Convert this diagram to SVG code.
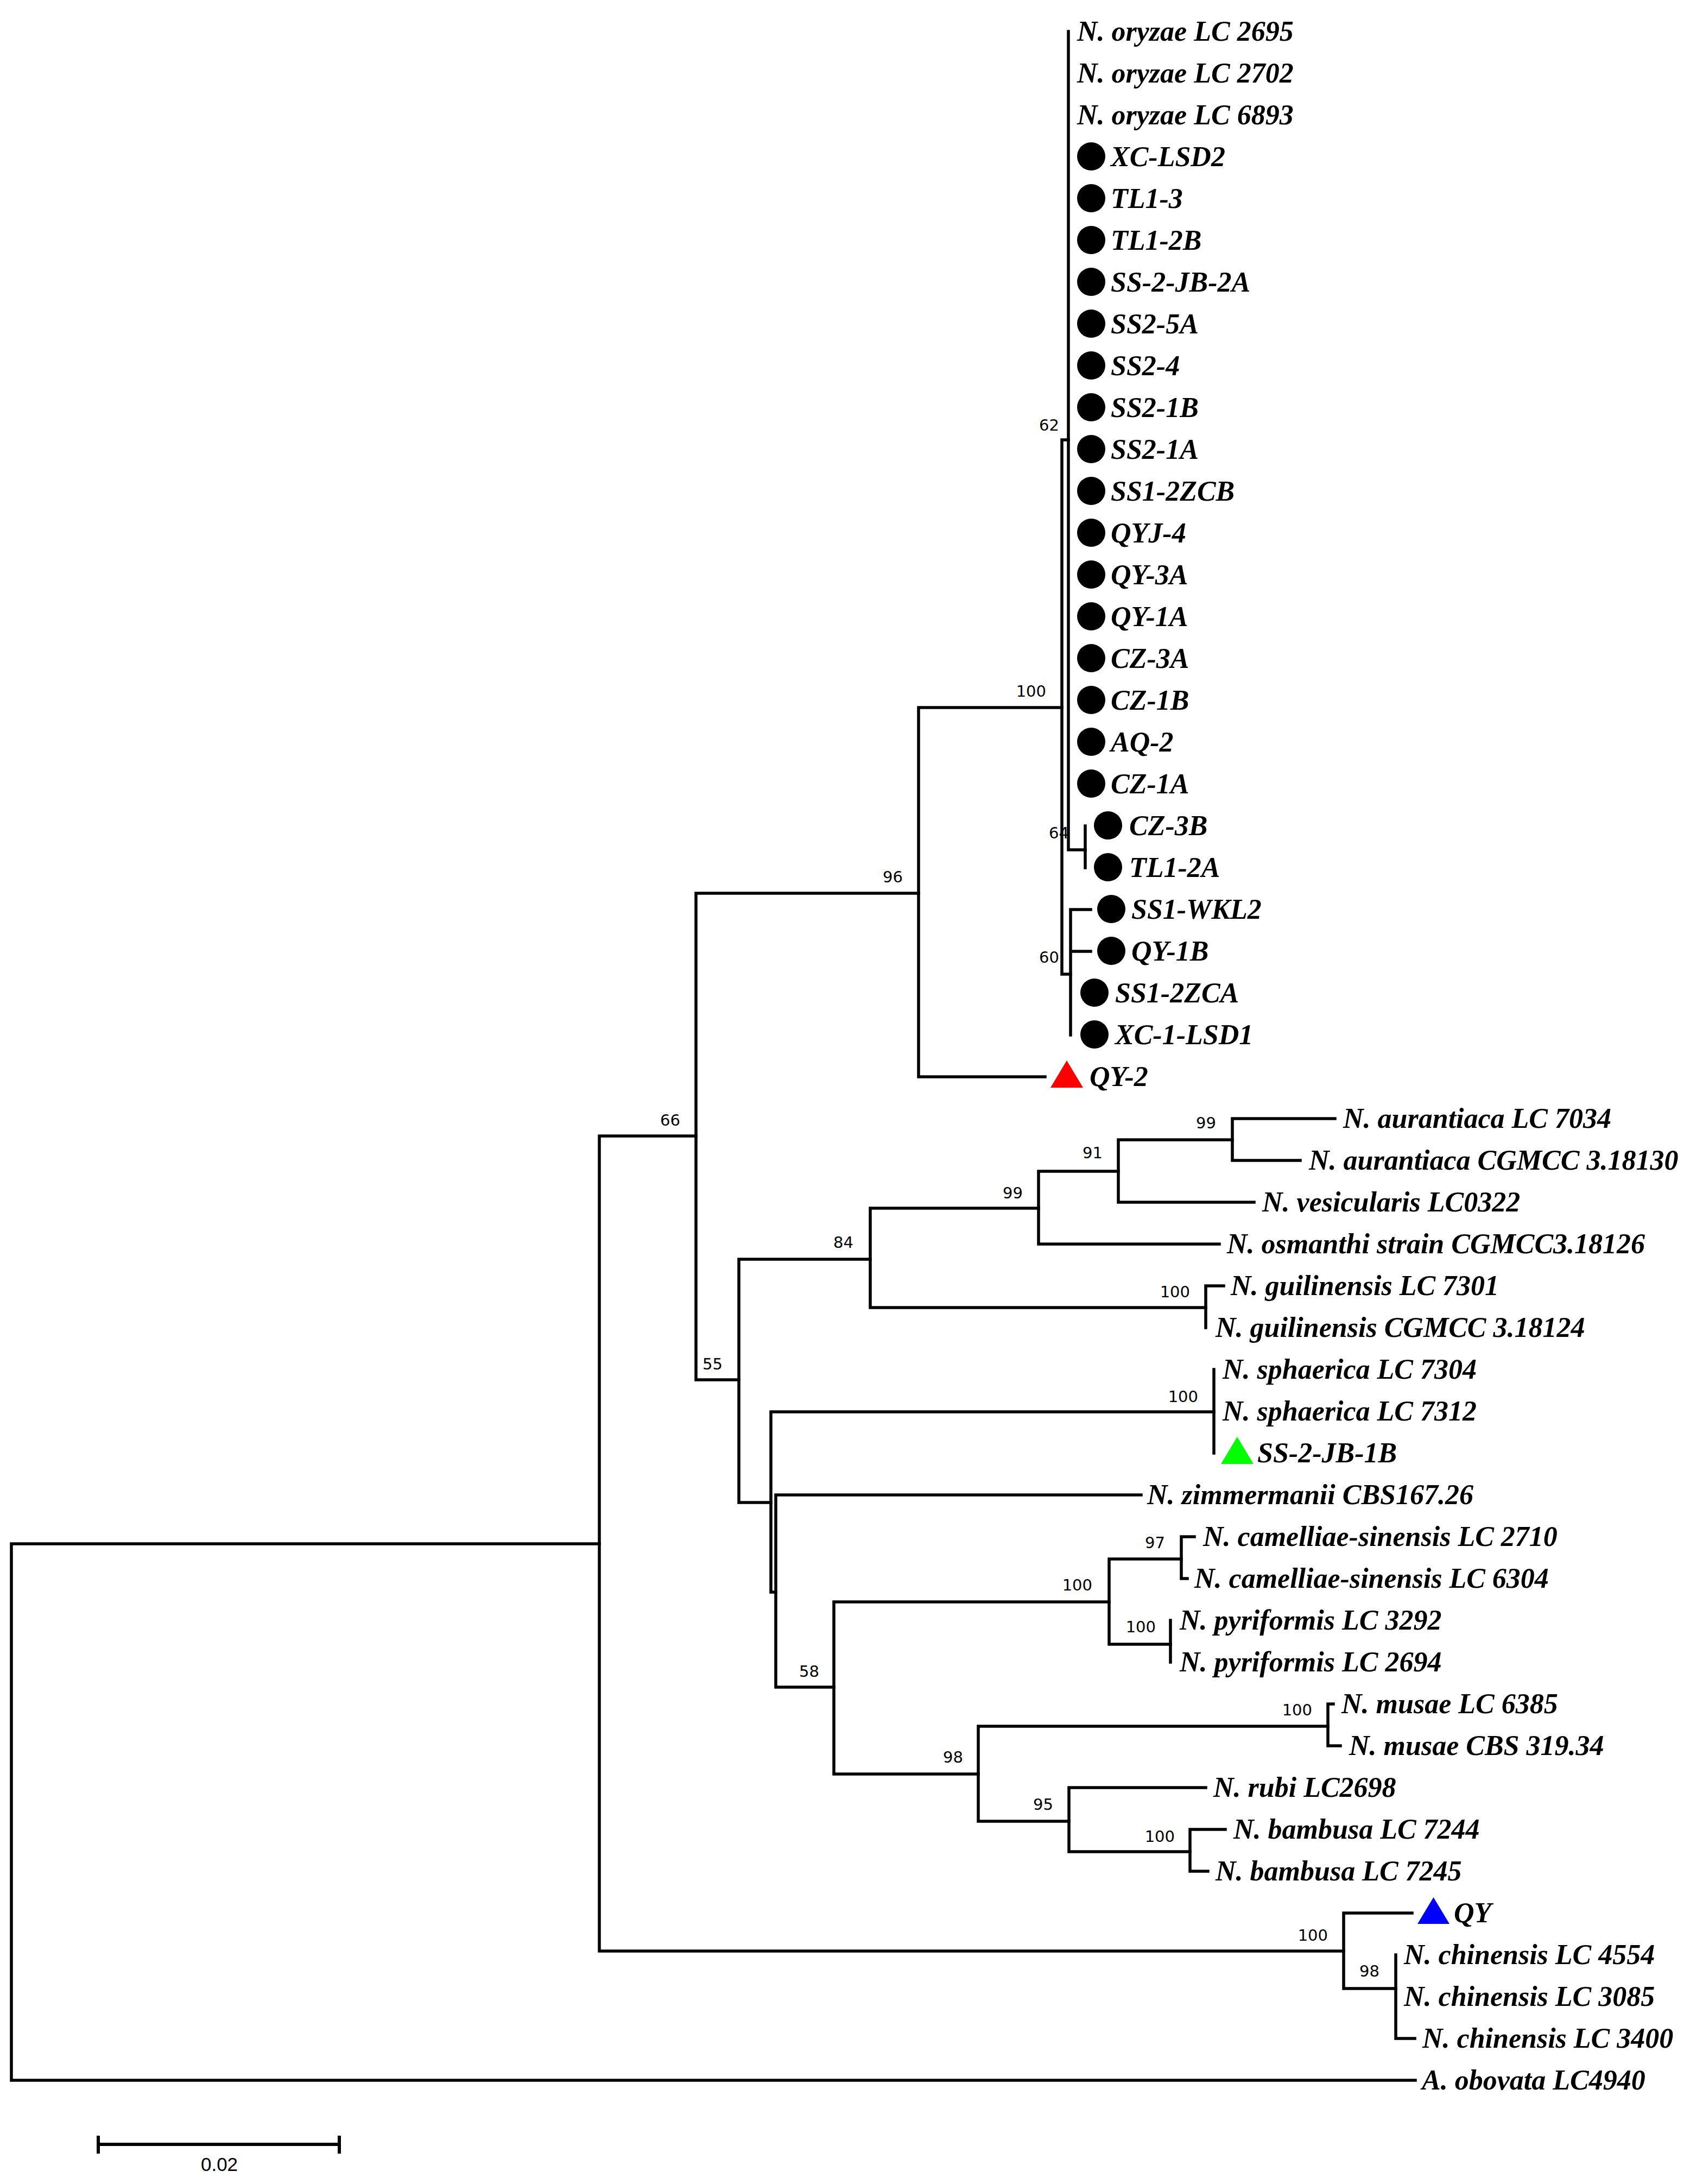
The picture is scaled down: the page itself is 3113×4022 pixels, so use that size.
<svg xmlns="http://www.w3.org/2000/svg" width="3113" height="4022" viewBox="0 0 3113 4022">
<style>
.t{font-family:"Liberation Serif","Times New Roman",serif;font-weight:bold;font-style:italic;font-size:52px;fill:#000}
.b{font-family:"DejaVu Sans",sans-serif;font-size:29px;fill:#000;text-anchor:end}
.e{stroke:#000;stroke-width:5.5;fill:none;stroke-linecap:square}
.dot{fill:#000}
</style>
<rect width="3113" height="4022" fill="#fff"/>
<g id="bootstrap">
<text class="b" x="1951" y="793">62</text>
<text class="b" x="1927" y="1283">100</text>
<text class="b" x="1969" y="1544">64</text>
<text class="b" x="1951" y="1773">60</text>
<text class="b" x="1663" y="1625">96</text>
<text class="b" x="1253" y="2073">66</text>
<text class="b" x="1331" y="2522">55</text>
<text class="b" x="1572" y="2298">84</text>
<text class="b" x="1884" y="2207">99</text>
<text class="b" x="2031" y="2133">91</text>
<text class="b" x="2240" y="2078">99</text>
<text class="b" x="2192" y="2389">100</text>
<text class="b" x="2207" y="2582">100</text>
<text class="b" x="1509" y="3088">58</text>
<text class="b" x="2012" y="2929">100</text>
<text class="b" x="2146" y="2851">97</text>
<text class="b" x="2129" y="3006">100</text>
<text class="b" x="1774" y="3246">98</text>
<text class="b" x="2417" y="3159">100</text>
<text class="b" x="1940" y="3333">95</text>
<text class="b" x="2164" y="3392">100</text>
<text class="b" x="2446" y="3574">100</text>
<text class="b" x="2541" y="3640">98</text>
</g>
<g id="connectors" class="e">
<path d="M21 2843V3831M21 2843H1104M21 3831H2607"/>
<path d="M1104 2092V3593M1104 2092H1282M1104 3593H2475"/>
<path d="M1282 1645V2541M1282 1645H1692M1282 2541H1361"/>
<path d="M1692 1303V1983M1692 1303H1956M1692 1983H1925"/>
<path d="M1956 810V1794M1956 810H1968M1956 1794H1972"/>
<path d="M1968 58V1565M1968 1565H1999"/>
<path d="M1999 1521V1598"/>
<path d="M1972 1675V1906M1972 1675H2009M1972 1752H2009"/>
<path d="M1361 2319V2767M1361 2319H1603M1361 2767H1420"/>
<path d="M1603 2225V2408M1603 2225H1913M1603 2408H2221"/>
<path d="M1913 2157V2291M1913 2157H2060M1913 2291H2246"/>
<path d="M2060 2099V2214M2060 2099H2270M2060 2214H2310"/>
<path d="M2270 2060V2137M2270 2060H2459M2270 2137H2395"/>
<path d="M2221 2368V2445M2221 2368H2254"/>
<path d="M1420 2600V2932M1420 2600H2236M1420 2932H1429"/>
<path d="M2236 2522V2676"/>
<path d="M1429 2753V3107M1429 2753H2102M1429 3107H1536"/>
<path d="M1536 2950V3267M1536 2950H2043M1536 3267H1802"/>
<path d="M2043 2871V3028M2043 2871H2176M2043 3028H2156"/>
<path d="M2176 2830V2907M2176 2830H2200M2176 2907H2187"/>
<path d="M2156 2984V3061"/>
<path d="M1802 3179V3354M1802 3179H2446M1802 3354H1969"/>
<path d="M2446 3138V3215M2446 3138H2456M2446 3215H2469"/>
<path d="M1969 3292V3410M1969 3292H2221M1969 3410H2192"/>
<path d="M2192 3369V3446M2192 3369H2257M2192 3446H2225"/>
<path d="M2475 3523V3662M2475 3523H2601M2475 3662H2571"/>
<path d="M2571 3600V3754M2571 3754H2606"/>
</g>
<g id="n0"><text class="t" x="1984" y="75">N. oryzae LC 2695</text></g>
<g id="n1"><text class="t" x="1984" y="152">N. oryzae LC 2702</text></g>
<g id="n2"><text class="t" x="1984" y="229">N. oryzae LC 6893</text></g>
<g id="n3"><circle class="dot" cx="2010" cy="288" r="26"/><text class="t" x="2046" y="306">XC-LSD2</text></g>
<g id="n4"><circle class="dot" cx="2010" cy="365" r="26"/><text class="t" x="2046" y="383">TL1-3</text></g>
<g id="n5"><circle class="dot" cx="2010" cy="442" r="26"/><text class="t" x="2046" y="460">TL1-2B</text></g>
<g id="n6"><circle class="dot" cx="2010" cy="519" r="26"/><text class="t" x="2046" y="537">SS-2-JB-2A</text></g>
<g id="n7"><circle class="dot" cx="2010" cy="596" r="26"/><text class="t" x="2046" y="614">SS2-5A</text></g>
<g id="n8"><circle class="dot" cx="2010" cy="673" r="26"/><text class="t" x="2046" y="691">SS2-4</text></g>
<g id="n9"><circle class="dot" cx="2010" cy="750" r="26"/><text class="t" x="2046" y="768">SS2-1B</text></g>
<g id="n10"><circle class="dot" cx="2010" cy="827" r="26"/><text class="t" x="2046" y="845">SS2-1A</text></g>
<g id="n11"><circle class="dot" cx="2010" cy="904" r="26"/><text class="t" x="2046" y="922">SS1-2ZCB</text></g>
<g id="n12"><circle class="dot" cx="2010" cy="981" r="26"/><text class="t" x="2046" y="999">QYJ-4</text></g>
<g id="n13"><circle class="dot" cx="2010" cy="1058" r="26"/><text class="t" x="2046" y="1076">QY-3A</text></g>
<g id="n14"><circle class="dot" cx="2010" cy="1135" r="26"/><text class="t" x="2046" y="1153">QY-1A</text></g>
<g id="n15"><circle class="dot" cx="2010" cy="1212" r="26"/><text class="t" x="2046" y="1230">CZ-3A</text></g>
<g id="n16"><circle class="dot" cx="2010" cy="1289" r="26"/><text class="t" x="2046" y="1307">CZ-1B</text></g>
<g id="n17"><circle class="dot" cx="2010" cy="1366" r="26"/><text class="t" x="2046" y="1384">AQ-2</text></g>
<g id="n18"><circle class="dot" cx="2010" cy="1443" r="26"/><text class="t" x="2046" y="1461">CZ-1A</text></g>
<g id="n19"><circle class="dot" cx="2041" cy="1520" r="26"/><text class="t" x="2080" y="1538">CZ-3B</text></g>
<g id="n20"><circle class="dot" cx="2041" cy="1597" r="26"/><text class="t" x="2080" y="1615">TL1-2A</text></g>
<g id="n21"><circle class="dot" cx="2047" cy="1674" r="26"/><text class="t" x="2084" y="1692">SS1-WKL2</text></g>
<g id="n22"><circle class="dot" cx="2047" cy="1751" r="26"/><text class="t" x="2084" y="1769">QY-1B</text></g>
<g id="n23"><circle class="dot" cx="2016" cy="1828" r="26"/><text class="t" x="2054" y="1846">SS1-2ZCA</text></g>
<g id="n24"><circle class="dot" cx="2016" cy="1905" r="26"/><text class="t" x="2054" y="1923">XC-1-LSD1</text></g>
<g id="n25"><polygon points="1935,2003 1995,2003 1965,1953" fill="#ff0000"/><text class="t" x="2007" y="2000">QY-2</text></g>
<g id="n26"><text class="t" x="2474" y="2077">N. aurantiaca LC 7034</text></g>
<g id="n27"><text class="t" x="2411" y="2154">N. aurantiaca CGMCC 3.18130</text></g>
<g id="n28"><text class="t" x="2325" y="2231">N. vesicularis LC0322</text></g>
<g id="n29"><text class="t" x="2260" y="2308">N. osmanthi strain CGMCC3.18126</text></g>
<g id="n30"><text class="t" x="2267" y="2385">N. guilinensis LC 7301</text></g>
<g id="n31"><text class="t" x="2239" y="2462">N. guilinensis CGMCC 3.18124</text></g>
<g id="n32"><text class="t" x="2252" y="2539">N. sphaerica LC 7304</text></g>
<g id="n33"><text class="t" x="2252" y="2616">N. sphaerica LC 7312</text></g>
<g id="n34"><polygon points="2249,2696 2309,2696 2279,2646" fill="#00ff00"/><text class="t" x="2316" y="2693">SS-2-JB-1B</text></g>
<g id="n35"><text class="t" x="2113" y="2770">N. zimmermanii CBS167.26</text></g>
<g id="n36"><text class="t" x="2216" y="2847">N. camelliae-sinensis LC 2710</text></g>
<g id="n37"><text class="t" x="2200" y="2924">N. camelliae-sinensis LC 6304</text></g>
<g id="n38"><text class="t" x="2173" y="3001">N. pyriformis LC 3292</text></g>
<g id="n39"><text class="t" x="2173" y="3078">N. pyriformis LC 2694</text></g>
<g id="n40"><text class="t" x="2471" y="3155">N. musae LC 6385</text></g>
<g id="n41"><text class="t" x="2485" y="3232">N. musae CBS 319.34</text></g>
<g id="n42"><text class="t" x="2235" y="3309">N. rubi LC2698</text></g>
<g id="n43"><text class="t" x="2272" y="3386">N. bambusa LC 7244</text></g>
<g id="n44"><text class="t" x="2239" y="3463">N. bambusa LC 7245</text></g>
<g id="n45"><polygon points="2611,3543 2670,3543 2640.5,3494" fill="#0000ff"/><text class="t" x="2678" y="3540">QY</text></g>
<g id="n46"><text class="t" x="2586" y="3617">N. chinensis LC 4554</text></g>
<g id="n47"><text class="t" x="2586" y="3694">N. chinensis LC 3085</text></g>
<g id="n48"><text class="t" x="2620" y="3771">N. chinensis LC 3400</text></g>
<g id="n49"><text class="t" x="2619" y="3848">A. obovata LC4940</text></g>
<g id="scalebar">
<path d="M181 3949H625M181 3933V3966M625 3933V3966" stroke="#000" stroke-width="6" fill="none"/>
<text x="404" y="3998" font-family="Liberation Sans, Arial, sans-serif" font-size="35" text-anchor="middle">0.02</text>
</g>
</svg>
